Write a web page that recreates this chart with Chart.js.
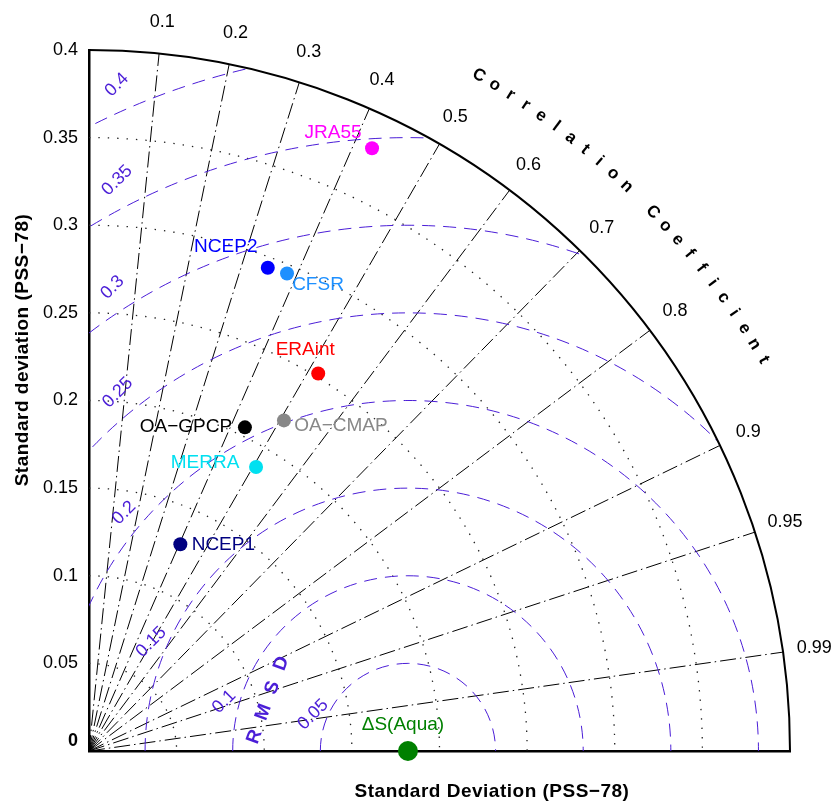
<!DOCTYPE html>
<html>
<head>
<meta charset="utf-8">
<title>Taylor diagram</title>
<script src="https://cdn.jsdelivr.net/npm/chart.js"></script>
<style>
  html, body { margin: 0; padding: 0; background: #fff; }
</style>
</head>
<body>
<canvas id="taylor" width="838" height="803"></canvas>
<script>
// products on the diagram (last one is the reference)
const names  = ['JRA55', 'NCEP2', 'CFSR', 'ERAint', 'OA−GPCP', 'OA−CMAP', 'MERRA', 'NCEP1', 'ΔS(Aqua)'];
const stdDev = [0.380, 0.294, 0.295, 0.252, 0.205, 0.219, 0.188, 0.129, 0.182];
const corr   = [0.425, 0.347, 0.383, 0.519, 0.434, 0.508, 0.507, 0.404, 1.0];
const colors = ['#ff00ff', '#0000ff', '#1e90ff', '#ff0000', '#000000', '#888888', '#00e0f0', '#000080', '#008000'];

// grid levels
const stdTicks  = [0.05, 0.1, 0.15, 0.2, 0.25, 0.3, 0.35, 0.4];
const corrTicks = [0.1, 0.2, 0.3, 0.4, 0.5, 0.6, 0.7, 0.8, 0.9, 0.95, 0.99];
const rmsTicks  = [0.05, 0.1, 0.15, 0.2, 0.25, 0.3, 0.35, 0.4];

// label placement (pixels offset from marker)
const labelDX = [-39, -42, 31, -13, -59, 57, -51, 43, -5];
const labelDY = [-15, -21, 11, -24, -1, 5, -4, 1, -26];
// rmsd label angle (deg, around reference) and outward offset (px)
const rmsLabelAng = [159, 165, 157, 140, 129, 122.5, 117, 113.6];
const rmsLabelOff = [14, 15, 16, 20, 23, 24, 27, 26];

const FONT = '"Liberation Sans", Arial, Helvetica, sans-serif';
const BLUE = 'rgb(75,30,215)';
const refStd = stdDev[stdDev.length - 1];
const rMax = 0.4;

const points = stdDev.map((s, i) => ({ x: s * corr[i], y: s * Math.sqrt(1 - corr[i] * corr[i]) }));

const taylorGrid = {
    id: 'taylorGrid',
    beforeDatasetsDraw(chart) {
        const ctx = chart.ctx;
        const xs = chart.scales.x, ys = chart.scales.y;
        const ox = xs.getPixelForValue(0), oy = ys.getPixelForValue(0);
        const px = v => xs.getPixelForValue(v) - ox;
        const R = px(rMax);

        ctx.save();
        // clip to the quarter disk
        ctx.beginPath();
        ctx.moveTo(ox, oy);
        ctx.arc(ox, oy, R, -Math.PI / 2, 0);
        ctx.closePath();
        ctx.clip();

        // std dev arcs (dotted)
        ctx.strokeStyle = '#222';
        ctx.lineWidth = 1.3;
        ctx.setLineDash([1.4, 8]);
        stdTicks.forEach(s => {
            if (s >= rMax) return;
            ctx.beginPath();
            ctx.arc(ox, oy, px(s), -Math.PI / 2, 0);
            ctx.stroke();
        });

        // correlation rays (dash-dot)
        ctx.strokeStyle = '#000';
        ctx.lineWidth = 1;
        ctx.setLineDash([16, 4, 1.5, 4]);
        corrTicks.forEach(c => {
            const a = Math.acos(c);
            ctx.beginPath();
            ctx.moveTo(ox, oy);
            ctx.lineTo(xs.getPixelForValue(rMax * Math.cos(a)), ys.getPixelForValue(rMax * Math.sin(a)));
            ctx.stroke();
        });

        // rmsd circles around the reference (dashed blue)
        const rx = xs.getPixelForValue(refStd);
        ctx.strokeStyle = BLUE;
        ctx.lineWidth = 1;
        ctx.setLineDash([13, 8]);
        rmsTicks.forEach(r => {
            ctx.beginPath();
            ctx.arc(rx, oy, px(r), Math.PI, 2 * Math.PI);
            ctx.stroke();
        });
        ctx.restore();

        // outer arc
        ctx.save();
        ctx.strokeStyle = '#000';
        ctx.lineWidth = 2;
        ctx.beginPath();
        ctx.arc(ox, oy, R, -Math.PI / 2, 0);
        ctx.stroke();
        ctx.restore();
    },
    afterDatasetsDraw(chart) {
        const ctx = chart.ctx;
        const xs = chart.scales.x, ys = chart.scales.y;
        const ox = xs.getPixelForValue(0), oy = ys.getPixelForValue(0);
        const px = v => xs.getPixelForValue(v) - ox;
        ctx.save();
        ctx.textBaseline = 'middle';
        ctx.textAlign = 'center';

        // product labels
        ctx.font = '19px ' + FONT;
        points.forEach((p, i) => {
            ctx.fillStyle = colors[i];
            ctx.fillText(names[i], xs.getPixelForValue(p.x) + labelDX[i], ys.getPixelForValue(p.y) + labelDY[i]);
        });

        // correlation tick labels
        ctx.fillStyle = '#000';
        ctx.font = '18px ' + FONT;
        corrTicks.forEach(c => {
            const a = Math.acos(c);
            const r = 0.418;
            ctx.fillText(String(c), xs.getPixelForValue(r * Math.cos(a)), ys.getPixelForValue(r * Math.sin(a)));
        });

        // "Correlation Coefficient" along the arc
        const title = 'Correlation Coefficient';
        ctx.font = 'bold 17px ' + FONT;
        const rT = px(0.445);
        const a0 = 60, a1 = 30.1;
        for (let k = 0; k < title.length; k++) {
            const ang = a0 + (a1 - a0) * k / (title.length - 1);
            const rad = ang * Math.PI / 180;
            ctx.save();
            ctx.translate(ox + rT * Math.cos(rad), oy - rT * Math.sin(rad));
            ctx.rotate((90 - ang) * Math.PI / 180);
            ctx.fillText(title[k], 0, 0);
            ctx.restore();
        }

        // rmsd labels
        const rx = xs.getPixelForValue(refStd);
        ctx.fillStyle = BLUE;
        ctx.font = '18px ' + FONT;
        rmsTicks.forEach((r, i) => {
            const rad = rmsLabelAng[i] * Math.PI / 180;
            const d = px(r) + rmsLabelOff[i];
            ctx.save();
            ctx.translate(rx + d * Math.cos(rad), oy - d * Math.sin(rad));
            ctx.rotate(-Math.PI / 4);
            ctx.fillText(String(r), 0, 0);
            ctx.restore();
        });

        // "R M S D"
        ctx.font = 'bold 19px ' + FONT;
        const rmsTitle = 'RMSD';
        const rad = 160 * Math.PI / 180;
        const d = px(0.085);
        ctx.save();
        ctx.translate(rx + d * Math.cos(rad), oy - d * Math.sin(rad));
        ctx.rotate((90 - 160) * Math.PI / 180);
        for (let k = 0; k < rmsTitle.length; k++) {
            ctx.fillText(rmsTitle[k], (k - 1.5) * 26, 0);
        }
        ctx.restore();

        // origin label
        ctx.fillStyle = '#000';
        ctx.font = 'bold 18px ' + FONT;
        ctx.fillText('0', ox - 16, oy - 10);

        // axis titles
        ctx.font = 'bold 19px ' + FONT;
        ctx.letterSpacing = '0.5px';
        ctx.fillText('Standard Deviation (PSS−78)', 492, 792);
        ctx.save();
        ctx.translate(23, 350);
        ctx.rotate(-Math.PI / 2);
        ctx.fillText('Standard deviation (PSS−78)', 0, 0);
        ctx.restore();
        ctx.letterSpacing = '0px';

        ctx.restore();
    }
};

const ctx = document.getElementById('taylor').getContext('2d');
const chart = new Chart(ctx, {
    type: 'scatter',
    data: {
        datasets: [{
            data: points,
            pointBackgroundColor: colors,
            pointBorderWidth: 0,
            pointRadius: names.map((n, i) => i === names.length - 1 ? 10 : 7),
            clip: false
        }]
    },
    options: {
        responsive: false,
        animation: false,
        layout: { padding: { top: 50, right: 48, left: 0, bottom: 0 } },
        plugins: { legend: { display: false }, tooltip: { enabled: false } },
        scales: {
            x: {
                type: 'linear', min: 0, max: rMax,
                ticks: { display: false },
                grid: { display: false, drawTicks: false },
                border: { color: '#000', width: 2.5 },
                afterFit(s) { s.height = 52; }
            },
            y: {
                type: 'linear', min: 0, max: rMax,
                afterBuildTicks(s) { s.ticks = stdTicks.map(v => ({ value: v })); },
                ticks: {
                    color: '#000', padding: 11, autoSkip: false,
                    font: { size: 18, family: FONT },
                    callback: v => String(+v.toFixed(2))
                },
                grid: { display: false, drawTicks: false },
                border: { color: '#000', width: 2.5 },
                afterFit(s) { s.width = 89; }
            }
        }
    },
    plugins: [taylorGrid]
});
</script>
</body>
</html>
